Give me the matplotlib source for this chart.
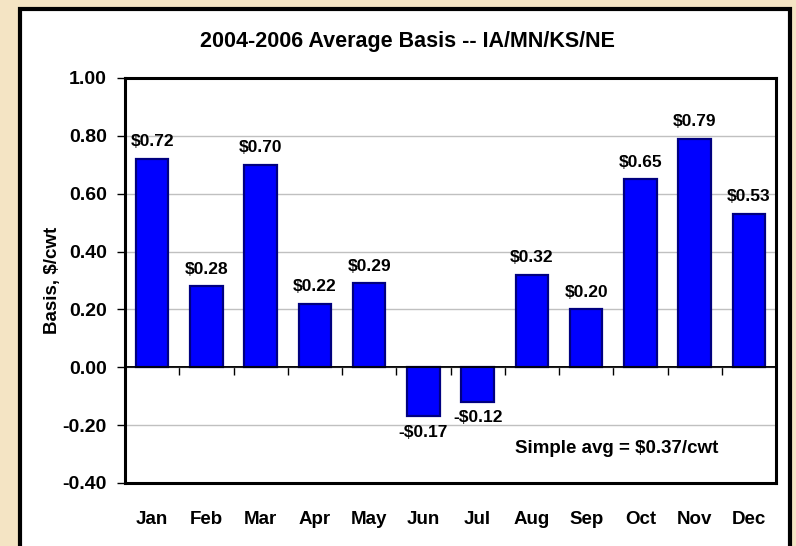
import numpy as np
import matplotlib.pyplot as plt
from matplotlib.patches import Rectangle

# Basis médio mensal 2004-2006, $/cwt
meses = ['Jan', 'Feb', 'Mar', 'Apr', 'May', 'Jun', 'Jul', 'Aug', 'Sep', 'Oct', 'Nov', 'Dec']
basis = [0.72, 0.28, 0.70, 0.22, 0.29, -0.17, -0.12, 0.32, 0.20, 0.65, 0.79, 0.53]
rotulos = ['$0.72', '$0.28', '$0.70', '$0.22', '$0.29', '-$0.17', '-$0.12',
           '$0.32', '$0.20', '$0.65', '$0.79', '$0.53']
y_ticks = [-0.40, -0.20, 0.00, 0.20, 0.40, 0.60, 0.80, 1.00]
media_txt = 'Simple avg = $0.37/cwt'

plt.rcParams['font.family'] = ['Liberation Sans', 'DejaVu Sans']
plt.rcParams['font.weight'] = 'bold'

fig = plt.figure(figsize=(7.96, 5.46), dpi=100)
fig.patch.set_facecolor('#f4e4c4')

# caixa branca do gráfico
W, H = 796, 546
caixa = Rectangle((20 / W, -0.02), 770 / W, 1 - 9 / H + 0.02, transform=fig.transFigure,
                  facecolor='white', edgecolor='black', linewidth=3, zorder=-1)
fig.patches.append(caixa)

ax = fig.add_axes([125 / W, 1 - 483 / H, 651 / W, 405 / H])
x = np.arange(len(meses))
ax.bar(x, basis, width=0.6, color='#0000ff', edgecolor='#000080', linewidth=1.6, zorder=3)

for xi, v, r in zip(x, basis, rotulos):
    if v >= 0:
        ax.annotate(r, (xi, v), xytext=(0, 7), textcoords='offset points',
                    ha='center', va='bottom', fontsize=12.5, fontweight='bold')
    else:
        ax.annotate(r, (xi, v), xytext=(0, -6), textcoords='offset points',
                    ha='center', va='top', fontsize=12.5, fontweight='bold')

ax.set_xlim(-0.5, len(meses) - 0.5)
ax.set_ylim(y_ticks[0], y_ticks[-1])
ax.set_yticks(y_ticks)
ax.set_yticklabels([f'{t:.2f}' for t in y_ticks], fontsize=14, fontweight='bold')
ax.set_xticks(x)
ax.set_xticklabels(meses, fontsize=13.5, fontweight='bold')
ax.tick_params(axis='x', length=0, pad=20)
ax.tick_params(axis='y', direction='out', length=6, width=1, pad=7)
ax.grid(axis='y', color='#c0c0c0', linewidth=1, zorder=0)
ax.set_axisbelow(True)
for s in ax.spines.values():
    s.set_linewidth(2.2)
    s.set_color('black')

# eixo no zero com marcas entre os meses
loc0 = (0 - y_ticks[0]) / (y_ticks[-1] - y_ticks[0])
eixo0 = ax.secondary_xaxis(loc0)
eixo0.set_xticks(np.arange(len(meses) + 1) - 0.5)
eixo0.set_xticklabels([])
eixo0.tick_params(direction='out', length=6, width=1)
eixo0.spines['bottom'].set_linewidth(1.2)
ax.axhline(0, color='black', linewidth=1.2, zorder=4)

ax.set_ylabel('Basis, $/cwt', fontsize=13.5, fontweight='bold', labelpad=1)
ax.text(0.755, 0.085, media_txt, transform=ax.transAxes, ha='center', va='center',
        fontsize=13.5, fontweight='bold')

fig.text(407 / W, 1 - 42 / H, '2004-2006 Average Basis -- IA/MN/KS/NE',
         ha='center', va='center', fontsize=15.5, fontweight='bold')

fig.savefig('out.png', dpi=100, facecolor=fig.get_facecolor())
